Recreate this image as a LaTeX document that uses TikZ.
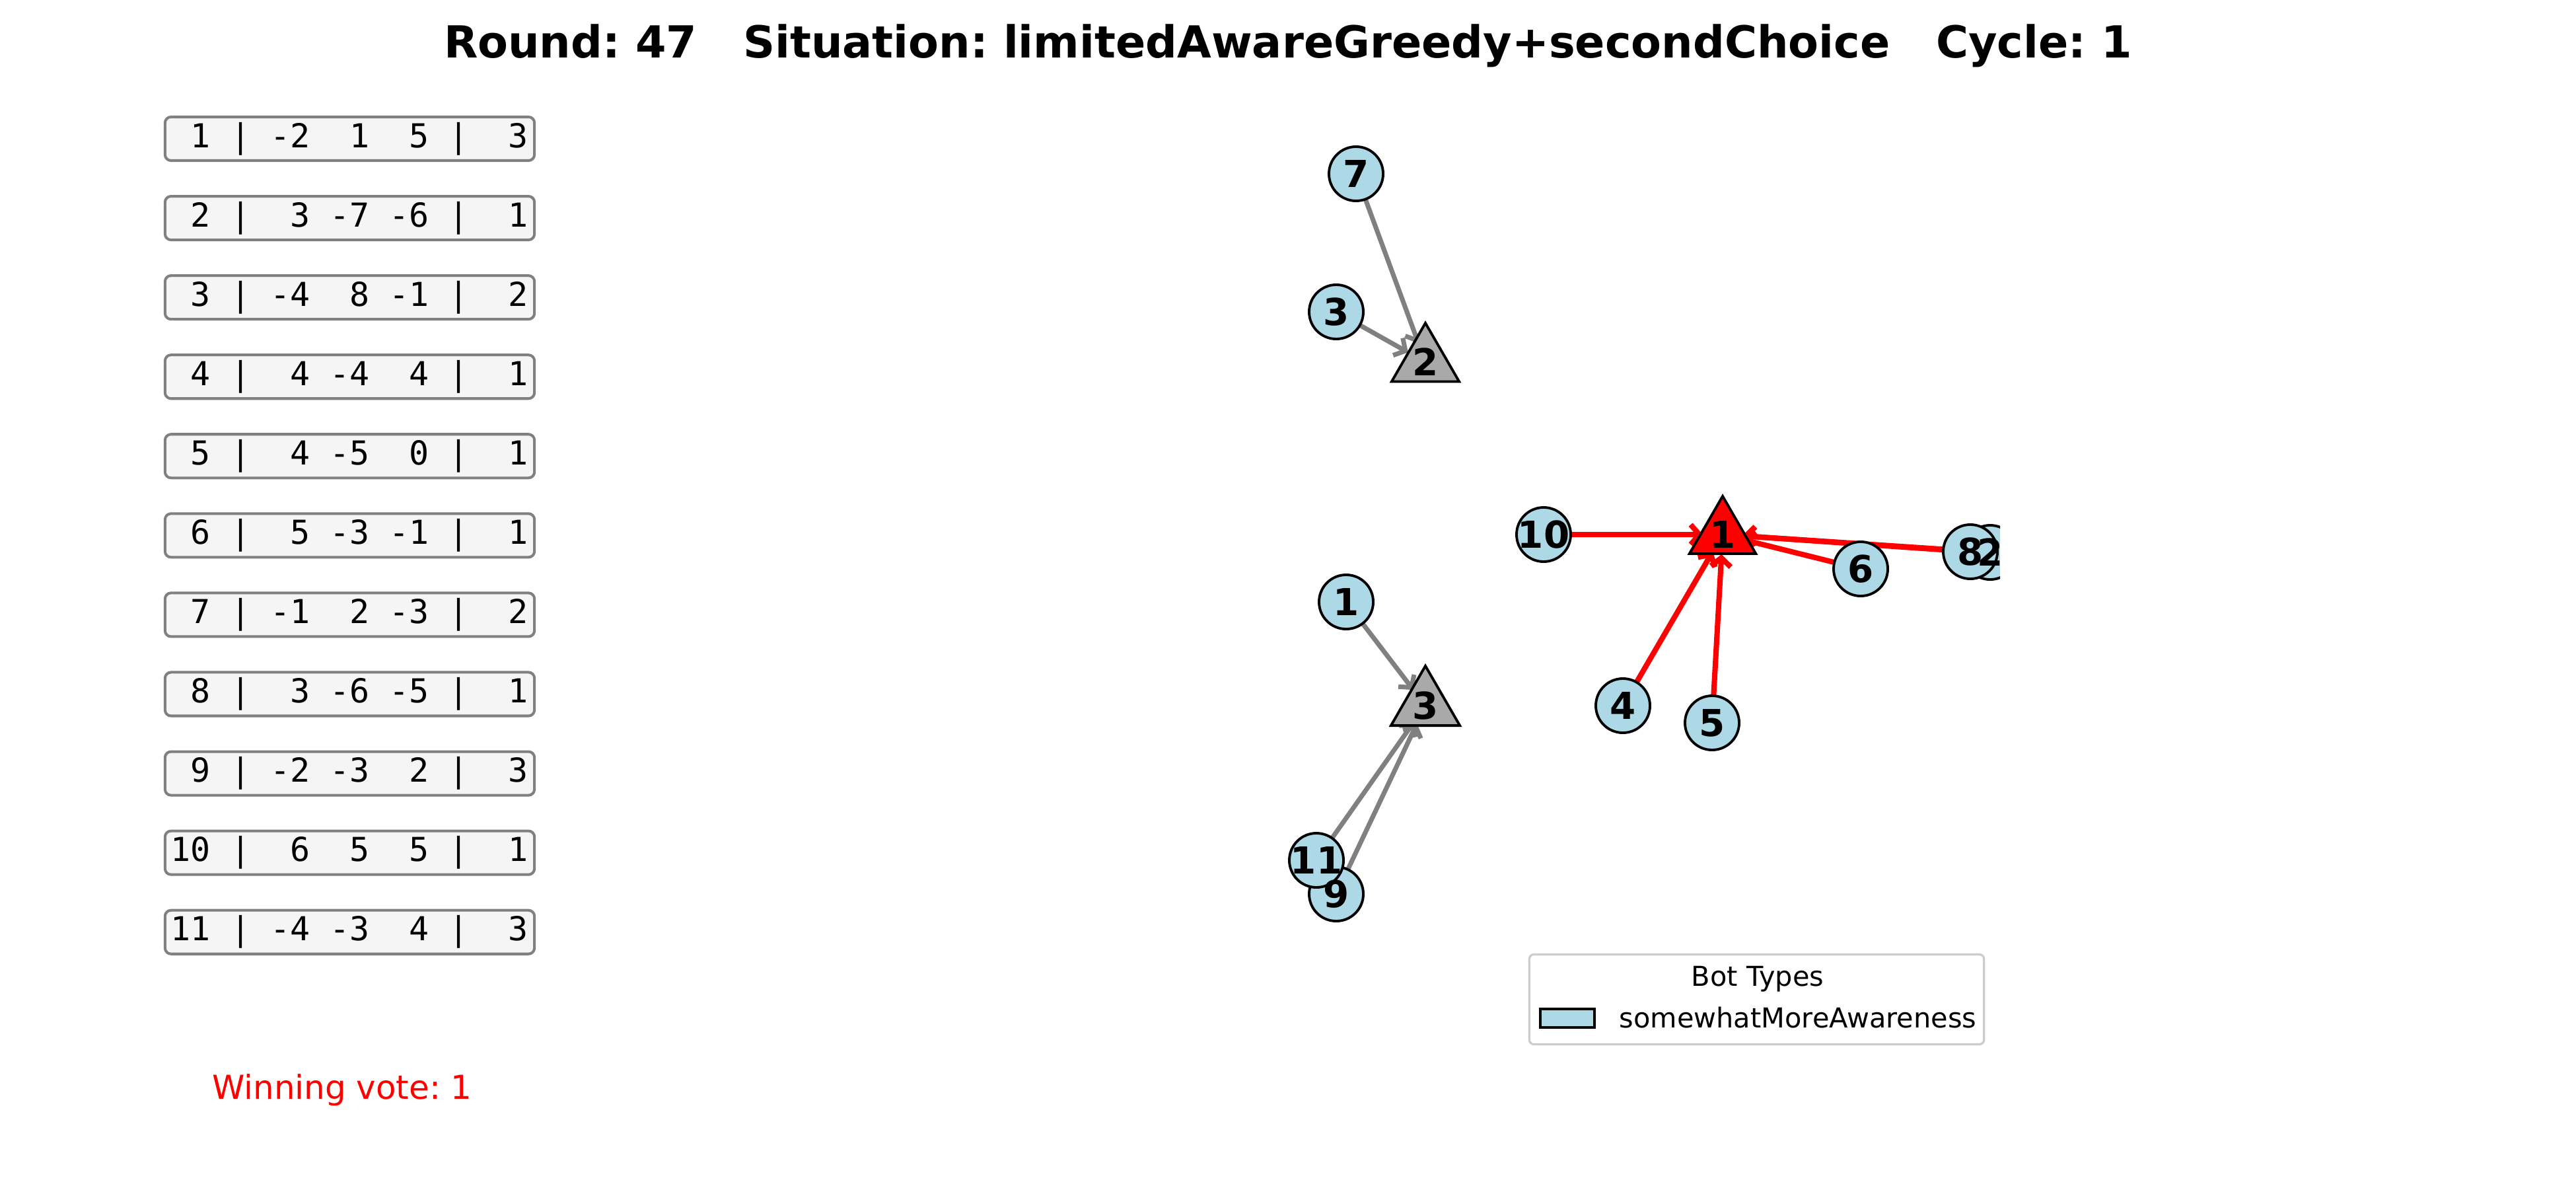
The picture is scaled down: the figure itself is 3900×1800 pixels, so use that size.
\documentclass[tikz,border=0pt]{standalone}
\usepackage{fontspec}
\setmainfont{DejaVu Sans}
\setmonofont{DejaVu Sans Mono}
\usetikzlibrary{positioning,shapes.geometric,arrows.meta,backgrounds}
\frenchspacing

\definecolor{ballotfill}{HTML}{F5F5F5}
\definecolor{edgegray}{HTML}{808080}
\definecolor{botblue}{HTML}{ADD8E6}
\definecolor{partygray}{HTML}{A9A9A9}
\definecolor{legendedge}{HTML}{CCCCCC}

\begin{document}
\begin{tikzpicture}[
    x=0.01cm,
    y=-0.01cm,
    ballot/.style={
        rectangle,
        draw=edgegray,
        fill=ballotfill,
        rounded corners=0.09cm,
        line width=1.15pt,
        minimum width=5.59cm,
        minimum height=0.66cm,
        inner sep=0pt,
        font=\ttfamily\fontsize{14.2}{17}\selectfont
    },
    voter/.style={
        circle,
        draw,
        fill=botblue,
        line width=1.1pt,
        minimum size=0.82cm,
        inner sep=0pt
    },
    party/.style={
        regular polygon,
        regular polygon sides=3,
        draw,
        line width=1.1pt,
        minimum size=1.16cm,
        inner sep=0pt,
        font=\bfseries\fontsize{16}{19}\selectfont
    },
    tag/.style={
        inner sep=0pt,
        font=\bfseries\fontsize{16}{19}\selectfont
    },
    vote/.style={
        -{Straight Barb[length=0.13cm,width=0.3cm]},
        draw=edgegray,
        line width=2pt,
        line cap=round,
        shorten >=0.3cm
    },
    winvote/.style={
        vote,
        draw=red,
        line width=2.3pt
    },
    legtext/.style={
        font=\fontsize{11.8}{14}\selectfont
    }
]

% Page
\begin{pgfonlayer}{background}
\fill[white] (0,0) rectangle (3900,1800);
\end{pgfonlayer}
\useasboundingbox (0,0) rectangle (3900,1800);

% Title
\node [anchor=base, font=\bfseries\fontsize{19}{23}\selectfont] (title) at (1950,88)
    {Round: 47~~~Situation: limitedAwareGreedy+secondChoice~~~Cycle: 1};

% Ballots
\node [ballot] (b1) at (529.5,210) {~1~|~-2~~1~~5~|~~3};
\node [ballot, below of=b1, node distance=1.2cm] (b2) {~2~|~~3~-7~-6~|~~1};
\node [ballot, below of=b2, node distance=1.2cm] (b3) {~3~|~-4~~8~-1~|~~2};
\node [ballot, below of=b3, node distance=1.2cm] (b4) {~4~|~~4~-4~~4~|~~1};
\node [ballot, below of=b4, node distance=1.2cm] (b5) {~5~|~~4~-5~~0~|~~1};
\node [ballot, below of=b5, node distance=1.2cm] (b6) {~6~|~~5~-3~-1~|~~1};
\node [ballot, below of=b6, node distance=1.2cm] (b7) {~7~|~-1~~2~-3~|~~2};
\node [ballot, below of=b7, node distance=1.2cm] (b8) {~8~|~~3~-6~-5~|~~1};
\node [ballot, below of=b8, node distance=1.2cm] (b9) {~9~|~-2~-3~~2~|~~3};
\node [ballot, below of=b9, node distance=1.2cm] (b10) {10~|~~6~~5~~5~|~~1};
\node [ballot, below of=b10, node distance=1.2cm] (b11) {11~|~-4~-3~~4~|~~3};

\node [anchor=base, text=red, font=\fontsize{14.2}{17}\selectfont] (winner) at (518,1663) {Winning vote: 1};

% Parties
\node [party, fill=red] (t1) at (2608,809) {1};
\node [party, fill=partygray] (t2) at (2158,548) {2};
\node [party, fill=partygray] (t3) at (2158,1068) {3};

% Voters
\begin{scope}
\clip (1900,150) rectangle (3028,1450);
\node [voter] (v1) at (2038,911) {};
\node [voter] (v2) at (3013,836) {};
\node [voter] (v3) at (2023,472) {};
\node [voter] (v4) at (2457,1068) {};
\node [voter] (v5) at (2592,1094) {};
\node [voter] (v6) at (2817,861) {};
\node [voter] (v7) at (2053,263) {};
\node [voter] (v8) at (2983,835) {};
\node [voter] (v9) at (2023,1353) {};
\node [voter] (v10) at (2337,809) {};
\node [voter] (v11) at (1993,1302) {};

\node [tag] (l1) at (v1) {1};
\node [tag] (l2) at (v2) {2};
\node [tag] (l3) at (v3) {3};
\node [tag] (l4) at (v4) {4};
\node [tag] (l5) at (v5) {5};
\node [tag] (l6) at (v6) {6};
\node [tag] (l7) at (v7) {7};
\node [tag] (l8) at (v8) {8};
\node [tag] (l9) at (v9) {9};
\node [tag] (l10) at (v10) {10};
\node [tag] (l11) at (v11) {11};
\end{scope}

% Votes
\begin{pgfonlayer}{background}
\draw [vote] (v7) -- (t2.center);
\draw [vote] (v3) -- (t2.center);
\draw [vote] (v1) -- (t3.center);
\draw [vote] (v11) -- (t3.center);
\draw [vote] (v9) -- (t3.center);
\draw [winvote] (v10) -- (t1.center);
\draw [winvote] (v6) -- (t1.center);
\draw [winvote] (v8) -- (t1.center);
\draw [winvote] (v2) -- (t1.center);
\draw [winvote] (v4) -- (t1.center);
\draw [winvote] (v5) -- (t1.center);
\end{pgfonlayer}

% Legend
\node [rectangle, draw=legendedge, fill=white, rounded corners=0.07cm, line width=0.9pt,
    minimum width=6.88cm, minimum height=1.36cm, inner sep=0pt] (legend) at (2659.5,1512.5) {};
\node [anchor=base, legtext] (legtitle) at (2661,1492) {Bot Types};
\node [rectangle, draw, fill=botblue, line width=1.1pt, minimum width=0.82cm,
    minimum height=0.28cm, inner sep=0pt] (legpatch) at (2373,1541) {};
\node [anchor=base west, inner sep=0pt, legtext] (legbot) at (2451,1555) {somewhatMoreAwareness};

\end{tikzpicture}
\end{document}
